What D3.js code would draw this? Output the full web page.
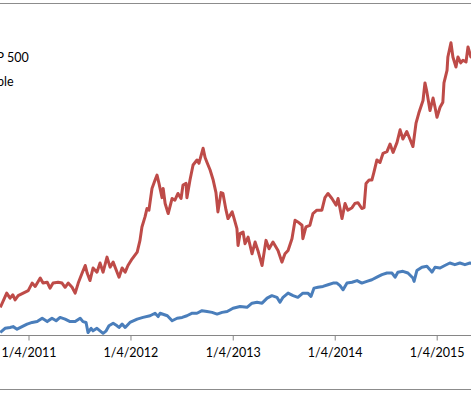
<!DOCTYPE html>
<html>
<head>
<meta charset="utf-8">
<script src="https://cdn.jsdelivr.net/npm/d3@7"></script>
<style>
  body { margin: 0; background: #fff; }
  svg { display: block; font-family: Lato, "Open Sans", sans-serif; }
</style>
</head>
<body>
<script>
// cumulative return (%) since 1/4/2010
const seriesNames = ["S&P 500", "Apple"];
const seriesColors = ["#4A7EBB", "#BE4B48"];

const spDates = ["2010-09-25","2010-10-12","2010-10-30","2010-11-10","2010-11-24","2010-12-12","2010-12-30",
  "2011-01-17","2011-02-04","2011-02-22","2011-03-12","2011-03-29","2011-04-13","2011-04-27","2011-05-15",
  "2011-06-02","2011-06-20","2011-07-08","2011-07-18","2011-07-29","2011-08-05","2011-08-16","2011-08-23",
  "2011-09-06","2011-09-17","2011-09-28","2011-10-09","2011-10-19","2011-11-03","2011-11-17","2011-11-24",
  "2011-12-05","2011-12-16","2012-01-02","2012-01-28","2012-02-18","2012-03-14","2012-04-01","2012-04-12",
  "2012-04-19","2012-05-15","2012-06-01","2012-06-19","2012-07-07","2012-07-24","2012-08-12","2012-08-29",
  "2012-09-16","2012-10-04","2012-10-22","2012-11-09","2012-11-27","2012-12-15","2013-01-05","2013-01-30",
  "2013-02-24","2013-03-14","2013-04-01","2013-04-19","2013-05-07","2013-05-24","2013-06-11","2013-06-22",
  "2013-07-03","2013-07-21","2013-08-08","2013-08-25","2013-09-12","2013-09-30","2013-10-11","2013-10-22",
  "2013-11-05","2013-11-23","2013-12-11","2013-12-29","2014-01-12","2014-01-23","2014-02-03","2014-02-17",
  "2014-03-07","2014-03-25","2014-04-11","2014-04-29","2014-05-17","2014-06-04","2014-06-22","2014-07-10",
  "2014-07-28","2014-08-08","2014-08-18","2014-09-05","2014-09-23","2014-10-11","2014-10-15","2014-10-25",
  "2014-11-12","2014-11-30","2014-12-11","2014-12-18","2014-12-29","2015-01-16","2015-02-02","2015-02-20",
  "2015-03-10","2015-03-28","2015-04-15","2015-05-03","2015-05-15"];
const spValues = [3,8,9,10,7,10,13,
  15,16,20,16,20,17,21,19,
  16,16,20,16,15,3,8,5,
  8,5,2,5,11,14,11,9,
  13,9,15,19,21,23,26,22,
  26,23,17,20,21,23,26,26,
  29,28,27,25,27,28,32,34,
  33,38,39,38,44,47,45,39,
  45,50,47,45,50,50,46,56,
  57,58,60,62,62,59,54,62,
  63,65,62,64,66,69,72,74,
  74,69,75,76,74,68,64,77,
  81,82,78,75,81,80,83,86,
  84,86,84,86,85];

const appleDates = ["2010-09-25","2010-10-06","2010-10-18","2010-10-30","2010-11-09","2010-11-17","2010-11-28",
  "2010-12-16","2011-01-03","2011-01-17","2011-01-28","2011-02-15","2011-02-25","2011-03-12","2011-03-22",
  "2011-04-02","2011-04-20","2011-05-04","2011-05-15","2011-05-26","2011-06-09","2011-06-20","2011-07-01",
  "2011-07-15","2011-07-26","2011-08-02","2011-08-12","2011-08-23","2011-09-06","2011-09-17","2011-09-28",
  "2011-10-12","2011-10-23","2011-11-03","2011-11-17","2011-11-24","2011-12-05","2011-12-16","2011-12-26",
  "2012-01-10","2012-01-28","2012-02-07","2012-02-14","2012-02-25","2012-03-03","2012-03-10","2012-03-21",
  "2012-04-01","2012-04-08","2012-04-15","2012-04-26","2012-04-30","2012-05-07","2012-05-18","2012-06-01",
  "2012-06-11","2012-06-22","2012-07-03","2012-07-10","2012-07-21","2012-07-24","2012-08-04","2012-08-15",
  "2012-08-29","2012-09-05","2012-09-20","2012-09-27","2012-10-04","2012-10-15","2012-10-26","2012-11-05",
  "2012-11-12","2012-11-23","2012-11-30","2012-12-11","2012-12-18","2013-01-02","2013-01-09","2013-01-19",
  "2013-01-23","2013-01-30","2013-02-10","2013-02-17","2013-02-28","2013-03-14","2013-03-25","2013-04-04",
  "2013-04-19","2013-05-03","2013-05-14","2013-05-28","2013-06-15","2013-06-29","2013-07-10","2013-07-21",
  "2013-08-04","2013-08-15","2013-08-25","2013-09-09","2013-09-12","2013-09-23","2013-10-07","2013-10-18",
  "2013-11-01","2013-11-19","2013-11-30","2013-12-11","2013-12-25","2014-01-09","2014-01-16","2014-01-30",
  "2014-02-10","2014-02-20","2014-03-07","2014-03-17","2014-03-28","2014-04-11","2014-04-19","2014-04-26",
  "2014-05-07","2014-05-17","2014-05-24","2014-06-04","2014-06-15","2014-06-26","2014-07-10","2014-07-21",
  "2014-08-01","2014-08-15","2014-08-26","2014-09-05","2014-09-19","2014-09-30","2014-10-11","2014-10-22",
  "2014-11-01","2014-11-16","2014-11-23","2014-11-30","2014-12-11","2014-12-22","2014-12-29","2015-01-05",
  "2015-01-16","2015-01-26","2015-01-30","2015-02-10","2015-02-13","2015-02-24","2015-03-03","2015-03-14",
  "2015-03-21","2015-03-31","2015-04-08","2015-04-19","2015-04-26","2015-05-06","2015-05-15"];
const appleValues = [33,41,50,44,48,42,47,
  50,53,62,58,68,62,63,56,
  62,63,62,57,62,57,50,62,
  74,83,74,65,80,75,86,75,
  93,81,87,75,69,80,75,83,
  91,99,113,129,141,151,149,175,
  185,191,181,164,175,157,145,163,
  161,169,163,179,181,164,185,203,
  209,205,223,212,206,197,185,170,
  147,170,169,149,139,147,139,127,
  107,121,123,109,117,97,111,101,
  83,113,103,111,101,87,97,101,
  115,137,135,131,115,129,131,145,
  149,149,164,169,163,155,163,139,
  157,149,152,157,158,151,152,181,
  185,185,194,209,206,217,219,228,
  218,230,245,234,243,234,225,253,
  265,280,301,290,268,283,272,260,
  272,278,301,316,332,349,332,320,
  332,325,328,326,344,332,336];

const tickDates = ["2011-01-04","2012-01-04","2013-01-04","2014-01-04","2015-01-04"];

const width = 471, height = 393;
const parse = d3.timeParse("%Y-%m-%d");

const x = d3.scaleTime()
  .domain([parse(tickDates[0]), parse(tickDates[4])])
  .range([28.5, 436.7]);
const y = d3.scaleLinear().domain([0, 400]).range([335, 0]);

const svg = d3.select("body").append("svg")
  .attr("width", width).attr("height", height);

// chart frame (cropped)
svg.append("line").attr("x1", 0).attr("x2", width).attr("y1", 3.5).attr("y2", 3.5)
  .attr("stroke", "#8c8c8c");
svg.append("line").attr("x1", 0).attr("x2", width).attr("y1", 389.5).attr("y2", 389.5)
  .attr("stroke", "#8c8c8c");

const xAxis = d3.axisBottom(x)
  .tickValues(tickDates.map(parse))
  .tickFormat(d3.timeFormat("%-m/%-d/%Y"))
  .tickSize(5).tickSizeOuter(0);

const gx = svg.append("g").attr("transform", "translate(0,335.5)").call(xAxis);
gx.select(".domain").attr("d", `M0,0H${width}`).attr("stroke", "#868686");
gx.selectAll(".tick line").attr("stroke", "#868686");
gx.selectAll(".tick text").attr("y", 21).attr("dy", 0)
  .attr("fill", "#000").style("font-size", "12.5px").style("font-family", "Lato, sans-serif");

const line = d3.line().x(d => x(d.date)).y(d => y(d.value));
const series = [
  spDates.map((d, i) => ({date: parse(d), value: spValues[i]})),
  appleDates.map((d, i) => ({date: parse(d), value: appleValues[i]}))
];

svg.selectAll("path.series")
  .data(series)
  .join("path")
  .attr("class", "series")
  .attr("fill", "none")
  .attr("stroke", (d, i) => seriesColors[i])
  .attr("stroke-width", 3)
  .attr("stroke-linejoin", "round")
  .attr("d", line);

// legend (partly cut off at the left)
svg.selectAll("text.legend")
  .data(seriesNames)
  .join("text")
  .attr("class", "legend")
  .attr("x", (d, i) => i === 0 ? 28.7 : 13.5)
  .attr("y", (d, i) => 61.5 + i * 24.5)
  .attr("text-anchor", "end")
  .attr("fill", "#000")
  .style("font-size", "12.5px")
  .text(d => d);
</script>
</body>
</html>
